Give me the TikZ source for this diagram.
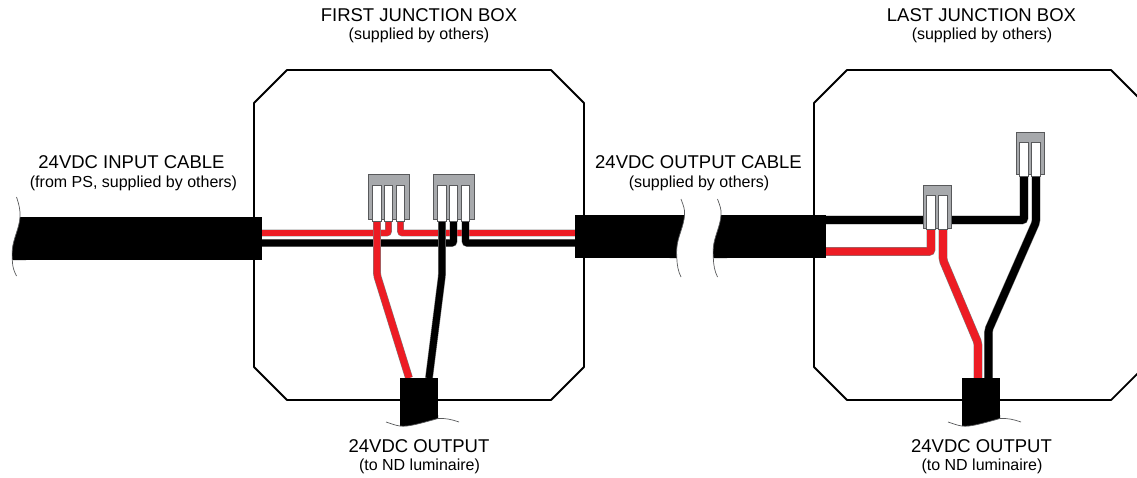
\documentclass[tikz,border=0pt]{standalone}
\usepackage{fontspec}
\setmainfont{Liberation Sans}
\usetikzlibrary{backgrounds}
\definecolor{wirered}{HTML}{ED1C24}
\definecolor{blockgray}{HTML}{A7A9AC}
\definecolor{edgegray}{HTML}{58595B}
% the cut end of a horizontal cable: x shift, x where the fill stops,
% top of the cut line, top of the cable, bottom of the cable, end of the cut line
\newcommand{\cablecut}[6]{
  \begin{scope}[xshift=#1pt]
    \fill (#2,#4) -- (20,#4) .. controls +(-.5,11) and +(.7,-11) .. (12.3,{#5-10})
      .. controls +(-.3,4) and +(-.2,-4) .. (12.3,#5) -- (#2,#5) -- cycle;
    \draw[cutline] (16.5,#3) .. controls +(2.5,7) and +(.5,-6) .. (20,#4)
      .. controls +(-.5,11) and +(.7,-11) .. (12.3,{#5-10})
      .. controls +(-.3,4) and +(-.2,-4) .. (12.3,#5)
      .. controls +(.3,7) and +(-3,-6) .. (16.5,#6);
  \end{scope}}
% the cut end of a cable that leaves a box downwards: x shift
\newcommand{\cablefoot}[1]{
  \begin{scope}[xshift=#1pt]
    \fill (400,415) -- (400,426) .. controls (408,427) and (418,424) .. (438,418.5) -- (438,415) -- cycle;
    \draw[cutline] (386,422) .. controls (392,424) and (396,425.5) .. (400,426)
      .. controls (408,427) and (418,424) .. (438,418.5)
      .. controls (445,418) and (452,419.5) .. (459,422);
  \end{scope}}
\begin{document}
\begin{tikzpicture}[x=1pt,y=-1pt,
    cable/.style={fill=black,inner sep=0pt,outer sep=0pt},
    cutline/.style={draw=edgegray,line width=.7pt},
    jbox/.style={draw=black,line width=1.8pt,line join=round},
    block/.style={draw=edgegray,fill=blockgray,line width=.8pt,inner sep=0pt},
    slot/.style={draw=edgegray,fill=white,line width=.8pt,inner sep=0pt,
        minimum width=8.5pt},
    redwire/.style={draw=gray,double=wirered,line width=.5pt,
        double distance=#1,rounded corners=2pt},
    blackwire/.style={draw=gray,double=black,line width=.5pt,
        double distance=#1,rounded corners=2pt},
    headtext/.style={inner sep=0pt,anchor=base,font=\fontsize{18.5}{20}\selectfont},
    notetext/.style={inner sep=0pt,anchor=base,font=\fontsize{16}{18}\selectfont}]

    \useasboundingbox (0,0) rectangle (1137,477);

    % the boxes

    \draw[jbox] (254,103) -- (287,70) -- (551,70) -- (584,103) -- (584,367)
      -- (551,400) -- (287,400) -- (254,367) -- cycle;
    \draw[jbox] (814,103) -- (847,70) -- (1111,70) -- (1144,103) -- (1144,367)
      -- (1111,400) -- (847,400) -- (814,367) -- cycle;

    % the cables

    \node[cable,minimum width=238pt,minimum height=43pt] (incable) at (143,238.5) {};
    \node[cable,minimum width=97pt,minimum height=43pt] (outcableleft) at (623.5,236.5) {};
    \node[cable,minimum width=101pt,minimum height=43pt] (outcableright) at (775.5,236.5) {};
    \node[cable,minimum width=38pt,minimum height=38pt] (lumcablefirst) at (419,397) {};
    \node[cable,minimum width=38pt,minimum height=38pt] (lumcablelast) at (981,397) {};

    \cablecut{0}{26}{197}{217}{260}{276}
    \cablecut{664.5}{5}{199}{215}{258}{277}
    \cablecut{701}{26}{199}{215}{258}{277}
    \cablefoot{0}
    \cablefoot{562}

    % the connectors

    \node[block,minimum width=41pt,minimum height=45pt] (blockredfirst) at (388.5,196.5) {};
    \node[slot,minimum height=36pt] (slotra) at (377,203) {};
    \node[slot,minimum height=36pt] (slotrb) at (388.5,203) {};
    \node[slot,minimum height=36pt] (slotrc) at (400.5,203) {};

    \node[block,minimum width=41pt,minimum height=45pt] (blockblackfirst) at (453.5,196.5) {};
    \node[slot,minimum height=36pt] (slotba) at (442,203) {};
    \node[slot,minimum height=36pt] (slotbb) at (453.5,203) {};
    \node[slot,minimum height=36pt] (slotbc) at (465.5,203) {};

    \node[block,minimum width=28pt,minimum height=43pt] (blockredlast) at (937,206.5) {};
    \node[slot,minimum height=34pt] (slotla) at (931,212) {};
    \node[slot,minimum height=34pt] (slotlb) at (943,212) {};

    \node[block,minimum width=28pt,minimum height=42pt] (blockblacklast) at (1030,153) {};
    \node[slot,minimum height=34pt] (slotma) at (1024,159) {};
    \node[slot,minimum height=34pt] (slotmb) at (1036,159) {};

    % the wires

    \begin{scope}[on background layer]
      \draw[redwire=5.8pt] ([yshift=3.5pt]outcableleft.west) -- (400.5,233) -- (slotrc.south);
      \draw[blackwire=6.8pt] ([yshift=-4.5pt]incable.east) -- (453.5,243) -- (slotbb.south);
      \draw[blackwire=6.8pt] ([yshift=-6.5pt]outcableleft.west) -- (465.5,243) -- (slotbc.south);
      \draw[blackwire=6.8pt] (slotba.south) -- (442,275) -- (429,378);
      \draw[redwire=5.8pt] ([yshift=5.5pt]incable.east) -- (388.5,233) -- (slotrb.south);
      \draw[redwire=6.8pt] (slotra.south) -- (377,275) -- (409,378);

      \draw[blackwire=7.6pt] ([yshift=16.5pt]outcableright.east) -- (1024,220) -- (slotma.south);
      \draw[redwire=7.6pt] ([yshift=-15pt]outcableright.east) -- (931,251.5) -- (slotla.south);
      \draw[redwire=7.6pt] (slotlb.south) -- (943,260) -- (978,343) -- (978,378);
      \draw[blackwire=7.6pt] (slotmb.south) -- (1036,222) -- (988.5,330) -- (988.5,378);
    \end{scope}

    % the texts

    \node[headtext] (firstboxhead) at (419,21) {FIRST JUNCTION BOX};
    \node[notetext] (firstboxnote) at (419,39) {(supplied by others)};
    \node[headtext] (lastboxhead) at (981.5,21) {LAST JUNCTION BOX};
    \node[notetext] (lastboxnote) at (982,39) {(supplied by others)};
    \node[headtext] (inhead) at (131.5,168) {24VDC INPUT CABLE};
    \node[notetext] (innote) at (133.5,187) {(from PS, supplied by others)};
    \node[headtext] (outhead) at (698.5,168) {24VDC OUTPUT CABLE};
    \node[notetext] (outnote) at (699,187) {(supplied by others)};
    \node[headtext] (lumfirsthead) at (419,452) {24VDC OUTPUT};
    \node[notetext] (lumfirstnote) at (419.5,470.5) {(to ND luminaire)};
    \node[headtext] (lumlasthead) at (981.5,452) {24VDC OUTPUT};
    \node[notetext] (lumlastnote) at (982,470.5) {(to ND luminaire)};
  \end{tikzpicture}
\end{document}
